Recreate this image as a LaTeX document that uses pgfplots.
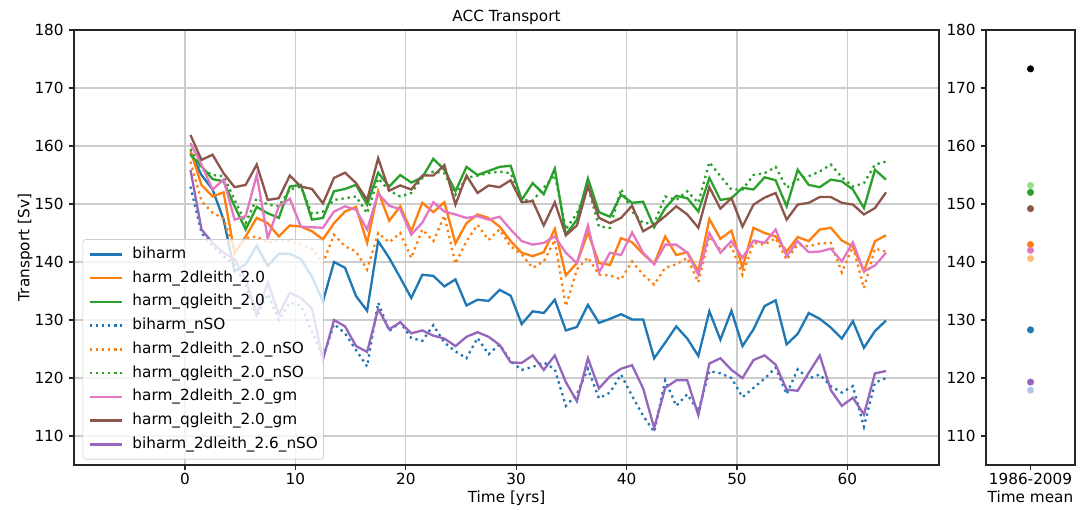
\documentclass[border=0pt]{standalone}
\usepackage{pgfplots}
\usepackage{pgfplotstable}
\pgfplotsset{compat=1.18}
\usepackage{fontspec}
\setmainfont{DejaVu Sans}
\definecolor{cB}{HTML}{1F77B4}
\definecolor{cO}{HTML}{FF7F0E}
\definecolor{cG}{HTML}{2CA02C}
\definecolor{cP}{HTML}{E377C2}
\definecolor{cBr}{HTML}{8C564B}
\definecolor{cPu}{HTML}{9467BD}
\definecolor{cLG}{HTML}{98DF8A}
\definecolor{cPe}{HTML}{FFBB78}
\definecolor{cLB}{HTML}{AEC7E8}
\pgfplotstableread{
t b h2 hq bn h2n hqn h2gm hqgm b26
0.5 158.8 159.2 158.5 153.0 157.3 159.5 160.5 161.9 155.9
1.5 155.0 153.3 156.5 145.0 150.5 156.0 156.8 157.6 145.6
2.5 152.5 151.3 154.3 142.8 148.5 155.0 152.5 158.5 143.3
3.5 147.3 152.0 153.9 141.0 147.5 154.8 154.2 155.3 141.6
4.5 138.4 141.5 149.6 139.5 141.8 150.7 147.3 152.9 140.5
5.5 139.6 144.4 145.6 136.0 144.1 146.7 147.9 153.3 137.0
6.5 142.8 147.6 149.5 130.5 144.4 151.0 155.0 156.8 131.0
7.5 139.3 146.7 148.4 134.5 143.3 149.9 144.1 150.7 136.5
8.5 141.4 144.4 147.6 130.0 143.8 149.6 149.6 151.0 131.0
9.5 141.4 146.3 153.0 133.0 143.6 152.5 150.9 154.9 134.7
10.5 140.5 146.1 153.3 132.5 143.0 153.0 146.1 153.0 133.8
11.5 137.5 145.3 147.3 128.0 142.3 148.3 146.0 152.6 132.0
12.5 133.2 143.9 147.6 123.5 139.8 148.7 145.9 150.1 123.2
13.5 140.0 146.7 152.2 129.3 144.7 150.7 148.7 154.5 130.0
14.5 139.0 148.7 152.6 127.7 142.7 151.0 149.6 155.4 128.9
15.5 134.1 149.5 153.3 124.8 141.8 151.3 149.0 153.6 125.5
16.5 131.6 143.3 149.9 122.0 138.7 148.4 145.6 150.7 124.5
17.5 143.6 152.2 155.4 133.0 145.0 154.4 151.8 157.9 131.9
18.5 140.7 147.1 153.0 128.1 143.4 152.3 149.7 152.3 128.4
19.5 137.3 149.6 155.0 129.6 145.0 151.3 149.1 153.2 129.6
20.5 133.8 145.3 153.7 126.9 140.7 151.9 144.7 152.5 127.7
21.5 137.8 150.2 154.6 126.4 145.6 154.5 146.8 154.9 128.2
22.5 137.6 148.6 157.8 129.1 143.6 155.6 150.3 154.9 127.3
23.5 135.8 150.3 155.9 126.1 148.0 155.3 148.7 156.7 126.8
24.5 137.0 143.2 152.2 124.6 139.7 151.6 148.2 149.9 125.5
25.5 132.5 146.7 156.4 123.4 143.6 154.5 147.6 154.9 127.1
26.5 133.5 148.2 155.0 126.9 146.4 154.9 147.9 151.9 127.9
27.5 133.3 147.6 155.7 124.1 143.8 155.3 147.3 153.2 127.1
28.5 135.2 146.1 156.4 125.8 145.6 155.6 147.8 152.9 125.7
29.5 134.2 143.6 156.6 122.9 142.7 155.3 145.6 154.1 122.7
30.5 129.3 141.6 150.7 121.4 141.3 150.7 143.6 150.3 122.6
31.5 131.5 141.0 153.6 121.9 139.0 150.6 143.0 150.5 123.9
32.5 131.2 141.7 151.7 122.7 140.1 152.8 143.3 146.3 121.4
33.5 133.5 145.7 156.1 121.5 143.8 155.0 144.4 150.3 123.9
34.5 128.2 137.7 144.7 115.2 132.4 145.6 141.6 144.6 119.3
35.5 128.8 139.8 147.3 117.2 138.7 148.4 139.8 146.3 116.0
36.5 132.6 145.1 154.4 121.6 140.8 153.0 146.3 153.1 123.4
37.5 129.5 139.8 148.6 116.5 137.8 146.1 138.2 147.6 118.2
38.5 130.2 139.5 147.8 117.5 137.7 145.9 141.6 146.7 120.3
39.5 131.0 144.1 151.6 120.6 137.0 152.6 141.2 147.6 121.6
40.5 130.1 143.4 150.2 116.9 140.1 148.7 145.1 149.7 122.2
41.5 130.1 141.4 150.4 113.5 137.8 146.7 141.6 145.3 118.2
42.5 123.4 139.7 146.0 110.7 136.1 146.7 139.6 146.4 111.4
43.5 126.1 144.4 149.3 119.6 139.0 151.3 143.0 147.9 118.3
44.5 128.9 141.2 151.4 115.2 139.6 150.7 143.0 149.6 119.6
45.5 126.8 141.7 151.0 117.2 140.7 152.2 141.6 148.2 119.6
46.5 123.8 138.4 148.7 114.3 136.5 150.2 137.8 145.9 113.6
47.5 131.5 147.4 154.5 121.2 144.4 157.2 145.0 152.9 122.5
48.5 126.6 144.0 150.7 120.8 142.1 154.8 141.6 149.2 123.4
49.5 131.6 145.4 151.0 120.0 142.7 152.5 143.6 151.0 121.4
50.5 125.5 139.0 152.8 116.7 137.8 152.5 140.7 146.1 120.0
51.5 128.4 145.9 152.5 118.3 143.3 155.0 143.7 149.9 123.1
52.5 132.4 145.0 154.6 119.9 143.0 155.3 143.3 151.1 123.9
53.5 133.4 144.4 154.1 121.8 144.1 156.4 145.6 151.9 122.3
54.5 125.8 141.8 149.6 117.2 140.4 152.8 141.0 147.3 118.0
55.5 127.6 144.3 155.9 121.5 143.0 154.2 143.6 149.9 117.8
56.5 131.2 143.6 153.3 119.9 142.7 154.8 141.7 150.2 120.9
57.5 130.2 145.6 152.9 120.6 143.2 155.6 141.8 151.2 123.9
58.5 128.7 145.9 154.2 118.6 143.3 156.8 142.3 151.2 117.9
59.5 126.8 143.7 153.9 117.5 138.2 154.6 140.1 150.2 115.2
60.5 129.8 142.7 152.5 118.6 142.7 153.0 143.4 149.9 116.6
61.5 125.2 138.4 149.3 111.6 135.5 153.6 138.4 148.2 113.7
62.5 128.1 143.6 155.9 119.2 142.3 156.8 139.4 149.3 120.8
63.5 129.9 144.6 154.2 120.0 141.8 157.3 141.6 152.0 121.2
}\acc
\pgfplotsset{
  base/.style={
    scale only axis,
    height=313.2pt,
    ymin=105, ymax=180,
    ytick={110,120,...,180},
    tick align=outside,
    major tick length=3.9pt,
    tick pos=left,
    axis line style={line width=0.9pt, black!85},
    every tick/.style={black!85, line width=0.9pt},
    /pgf/number format/assume math mode=true,
    ticklabel style={font=\fontsize{11}{13}\selectfont},
    x tick label style={yshift=1.5pt},
    label style={font=\fontsize{11}{13}\selectfont},
    xlabel style={yshift=2.5pt},
    title style={font=\fontsize{11}{13}\selectfont},
  },
  dotted mpl/.style={dash pattern=on 1.67pt off 2.75pt},
}
\begin{document}
\begin{tikzpicture}
\useasboundingbox (0,0) rectangle (783.36pt,366.48pt);
\begin{axis}[base,
  at={(53.28pt,31.68pt)}, anchor=south west,
  width=622.8pt,
  xmin=-10.05, xmax=68.3,
  xtick={0,10,...,60},
  grid=major,
  major grid style={color=black!20, line width=0.9pt},
  title={ACC Transport},
  title style={anchor=base},
  xlabel={Time [yrs]},
  ylabel={Transport [Sv]},
  ylabel style={yshift=-5.5pt},
  legend cell align=left,
  legend image code/.code={\draw[#1] (0pt,0pt) -- (23pt,0pt);},
  legend style={at={(0.01,0.519)}, anchor=north west,
    draw=black!20, fill=white, fill opacity=0.8, text opacity=1,
    rounded corners=2pt, inner xsep=4pt, inner ysep=5.2pt,
    font=\fontsize{11}{13}\selectfont,
    nodes={inner sep=0pt, text height=8.3pt, text depth=2.7pt},
    row sep=6.1pt,
    /tikz/every odd column/.append style={column sep=7pt}},
]
\addplot[cB, line width=1.67pt] table[x=t, y=b] {\acc};
\addlegendentry{biharm}
\addplot[cO, line width=1.67pt] table[x=t, y=h2] {\acc};
\addlegendentry{harm\_2dleith\_2.0}
\addplot[cG, line width=1.67pt] table[x=t, y=hq] {\acc};
\addlegendentry{harm\_qgleith\_2.0}
\addplot[cB, line width=1.67pt, dotted mpl] table[x=t, y=bn] {\acc};
\addlegendentry{biharm\_nSO}
\addplot[cO, line width=1.67pt, dotted mpl] table[x=t, y=h2n] {\acc};
\addlegendentry{harm\_2dleith\_2.0\_nSO}
\addplot[cG, line width=1.67pt, dotted mpl] table[x=t, y=hqn] {\acc};
\addlegendentry{harm\_qgleith\_2.0\_nSO}
\addplot[cP, line width=1.67pt] table[x=t, y=h2gm] {\acc};
\addlegendentry{harm\_2dleith\_2.0\_gm}
\addplot[cBr, line width=1.67pt] table[x=t, y=hqgm] {\acc};
\addlegendentry{harm\_qgleith\_2.0\_gm}
\addplot[cPu, line width=1.67pt] table[x=t, y=b26] {\acc};
\addlegendentry{biharm\_2dleith\_2.6\_nSO}
\end{axis}
\begin{axis}[base,
  at={(709.92pt,31.68pt)}, anchor=south west,
  width=64.08pt,
  xmin=-0.5, xmax=0.5,
  xtick={0}, xticklabels={1986-2009},
  xlabel={Time mean},
  mark size=2.3pt,
]
\addplot[only marks, mark=*, black] coordinates {(0,173.3)};
\addplot[only marks, mark=*, cLG] coordinates {(0,153.2)};
\addplot[only marks, mark=*, cG] coordinates {(0,152.0)};
\addplot[only marks, mark=*, cBr] coordinates {(0,149.2)};
\addplot[only marks, mark=*, cO] coordinates {(0,143.0)};
\addplot[only marks, mark=*, cP] coordinates {(0,142.0)};
\addplot[only marks, mark=*, cPe] coordinates {(0,140.6)};
\addplot[only marks, mark=*, cB] coordinates {(0,128.3)};
\addplot[only marks, mark=*, cPu] coordinates {(0,119.3)};
\addplot[only marks, mark=*, cLB] coordinates {(0,117.9)};
\end{axis}
\end{tikzpicture}
\end{document}
